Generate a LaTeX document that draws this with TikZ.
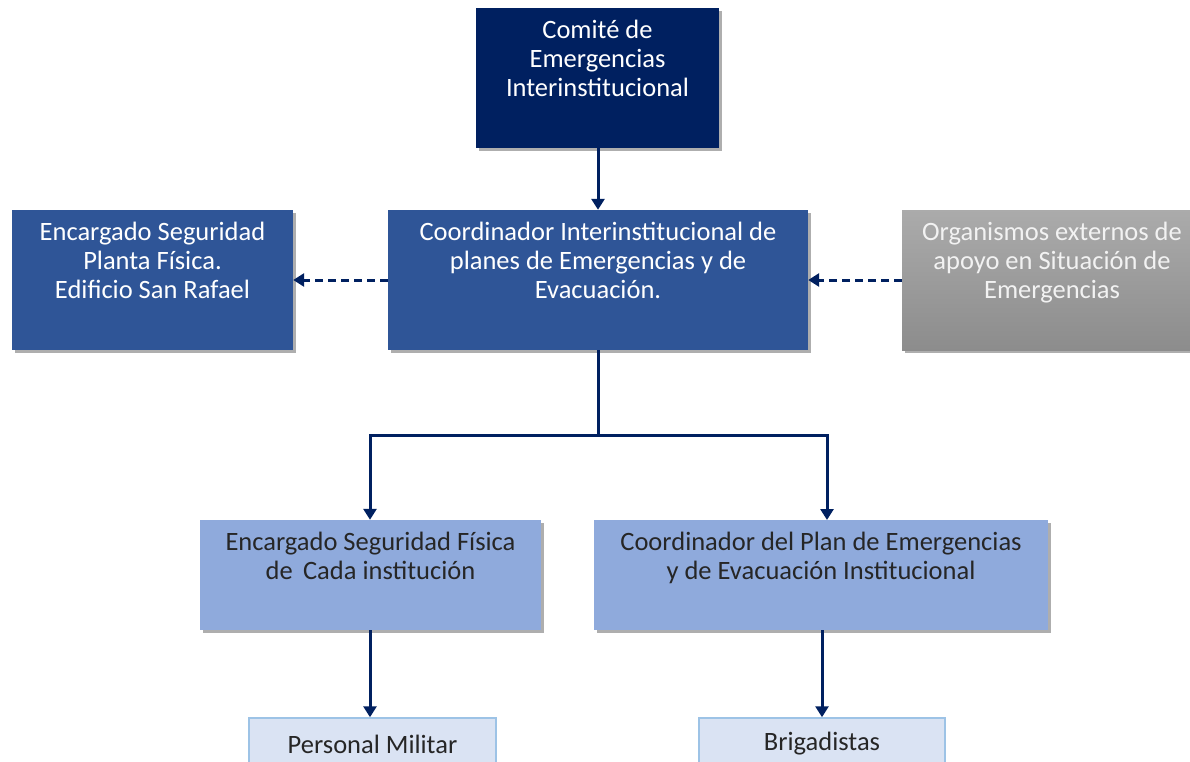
\documentclass[tikz,border=0pt]{standalone}
\usepackage{fontspec}
\setmainfont{Carlito}
\usetikzlibrary{arrows.meta,shadows,calc}
\definecolor{navy}{HTML}{002060}
\definecolor{midblue}{HTML}{2F5597}
\definecolor{lightblue}{HTML}{8FAADC}
\definecolor{paleblue}{HTML}{DAE3F3}
\definecolor{paleedge}{HTML}{9DC3E6}
\definecolor{txtdark}{HTML}{262626}
\tikzset{
  x=1pt, y=-1pt,
  boxbase/.style={rectangle, inner sep=0pt, draw=none,
    drop shadow={shadow xshift=2.5pt, shadow yshift=-3pt, opacity=0.45, fill=black!70}},
  darkbox/.style={boxbase, fill=navy},
  midbox/.style={boxbase, fill=midblue},
  graybox/.style={boxbase, top color=black!33, bottom color=black!45},
  lightbox/.style={boxbase, fill=lightblue},
  palebox/.style={rectangle, inner sep=0pt, fill=paleblue, draw=paleedge, line width=1.5pt},
  txt/.style={inner sep=0pt, align=center, anchor=north, font=\fontsize{26.5}{29}\selectfont},
  wtxt/.style={txt, text=white},
  gtxt/.style={txt, text=black!5},
  dtxt/.style={txt, text=txtdark},
  conn/.style={draw=navy, line width=3pt, -{Triangle[length=11pt,width=13pt]}},
  dconn/.style={conn, dash pattern=on 8pt off 5pt},
}
\begin{document}
\begin{tikzpicture}
\useasboundingbox (0,0) rectangle (1190,762);
% boxes
\node[darkbox, minimum width=243pt, minimum height=140pt] (comite) at (597.5,78) {};
\node[midbox, minimum width=420pt, minimum height=140pt] (coord) at (598,280) {};
\node[midbox, minimum width=281pt, minimum height=140pt] (left) at (152.5,280) {};
\node[graybox, minimum width=300pt, minimum height=140pt] (right) at (1052,280) {};
\node[lightbox, minimum width=341pt, minimum height=110pt] (encfis) at (370.5,575) {};
\node[lightbox, minimum width=454pt, minimum height=110pt] (coordplan) at (821,575) {};
\node[palebox, minimum width=247pt, minimum height=60pt] (militar) at (372.5,748) {};
\node[palebox, minimum width=246pt, minimum height=60pt] (brig) at (822,748) {};
% texts
\node[wtxt] (comite-t) at ($(comite.north)+(0,12)$) {Comité de\\Emergencias\\Interinstitucional};
\node[wtxt] (coord-t) at ($(coord.north)+(0,12)$) {Coordinador Interinstitucional de\\planes de Emergencias y de\\Evacuación.};
\node[wtxt] (left-t) at ($(left.north)+(0,12)$) {Encargado Seguridad\\Planta Física.\\Edificio San Rafael};
\node[gtxt] (right-t) at ($(right.north)+(0,12)$) {Organismos externos de\\apoyo en Situación de\\Emergencias};
\node[dtxt] (encfis-t) at ($(encfis.north)+(0,12)$) {Encargado Seguridad Física\\de\, Cada institución};
\node[dtxt] (coordplan-t) at ($(coordplan.north)+(0,12)$) {Coordinador del Plan de Emergencias\\y de Evacuación Institucional};
\node[dtxt, anchor=center] (militar-t) at (372.5,744) {Personal Militar};
\node[dtxt, anchor=center] (brig-t) at (822,744) {Brigadistas};
% connectors
\coordinate (j) at (598,435);
\coordinate (rtarget) at (827,520);
\draw[conn] (comite.south -| 598,0) -- (coord.north -| 598,0);
\draw[dconn] (coord.west) -- (left.east);
\draw[dconn] (right.west) -- (coord.east);
\draw[conn] (coord.south -| j) -- (j) -| (encfis.north -| 370,0);
\draw[conn] (j) -| (rtarget);
\draw[conn] (encfis.south -| 370,0) -- (militar.north -| 370,0);
\draw[conn] (coordplan.south -| 822,0) -- (brig.north -| 822,0);
\end{tikzpicture}
\end{document}
